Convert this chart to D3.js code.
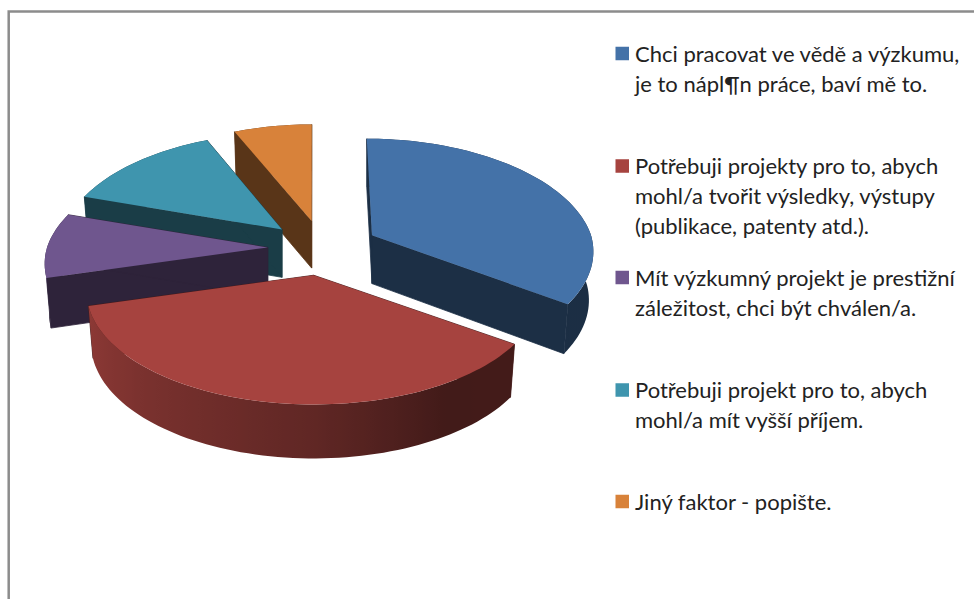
<!DOCTYPE html>
<html>
<head>
<meta charset="utf-8">
<script src="https://cdn.jsdelivr.net/npm/d3@7"></script>
<style>
  html, body { margin: 0; background: #fff; }
  svg { display: block; }
  text { font-family: Lato, "Open Sans", sans-serif; font-size: 22px; fill: #222; }
</style>
</head>
<body>
<svg id="chart" width="974" height="599"></svg>
<script>
var categories = [
  ["Chci pracovat ve vědě a výzkumu,", "je to nápl¶n práce, baví mě to."],
  ["Potřebuji projekty pro to, abych", "mohl/a tvořit výsledky, výstupy", "(publikace, patenty atd.)."],
  ["Mít výzkumný projekt je prestižní", "záležitost, chci být chválen/a."],
  ["Potřebuji projekt pro to, abych", "mohl/a mít vyšší příjem."],
  ["Jiný faktor - popište."]
];
var values = [34.7, 36, 9.3, 13.4, 6.6];
var colors = ["#4472a8", "#a6433f", "#6f568e", "#3f95ae", "#d8823a"];
var legendY = [53.5, 166, 277.5, 390, 501.5];

var cx = 323, cy = 248,      // pie centre before the slices are pulled out
    vx = 313,                // horizontal vanishing point
    radius = 221,
    squash = 0.5,
    persp = 0.145,
    explode = 0.25;

var svg = d3.select("#chart");

// frame
svg.append("path")
  .attr("d", "M8.7,599V11.5H974")
  .attr("fill", "none")
  .attr("stroke", "#8c8c8c")
  .attr("stroke-width", 2.5);

var slices = d3.pie().sort(null)(values).map(function(d, i) {
  var mid = (d.startAngle + d.endAngle) / 2;
  return {
    i: i,
    a0: d.startAngle,
    a1: d.endAngle,
    mid: mid,
    ax: cx + radius * explode * Math.sin(mid),
    ay: cy - radius * squash * explode * Math.cos(mid)
  };
});

// plane (x right, y back) to screen, relative to the slice's apex
function project(s, x, y, low) {
  var w = 1 / (1 + persp * y),
      lean = 1 - (1 - Math.min(1, w)) * 0.7,
      r = 219 + (s.ay - 235) * 0.14,     // slices nearer the viewer come out a bit wider
      k = low ? 0.98 : 1,
      depth = 47 + (s.ay - 220) * 0.09 + Math.max(0, -y) * 2;
  return [
    vx + (s.ax - vx) * lean + r * x * w * k,
    s.ay - radius * squash * y * w + (low ? depth : 0)
  ];
}

function rimPoint(s, a, low) {
  return project(s, Math.sin(a), Math.cos(a), low);
}

function arcAngles(s, step) {
  var n = Math.max(2, Math.ceil((s.a1 - s.a0) / step));
  return d3.range(n + 1).map(function(k) {
    return s.a0 + (s.a1 - s.a0) * k / n;
  });
}

var line = d3.line();

// how much of the base colour survives on the rim, by angle in degrees
var rimShade = d3.scaleLinear()
  .domain([0, 150, 180, 255, 256, 360])
  .range([0.41, 0.4, 0.58, 0.86, 0.41, 0.41])
  .clamp(true);

function shade(c, f) {
  var r = d3.rgb(c);
  return d3.rgb(r.r * f, r.g * f, r.b * f).formatHex();
}

// back slices first
var order = slices.slice().sort(function(p, q) { return p.ay - q.ay; });

var defs = svg.append("defs");

var pies = svg.selectAll("g.slice")
  .data(order)
  .enter().append("g")
  .attr("class", "slice");

pies.each(function(s) {
  var g = d3.select(this),
      base = colors[s.i],
      dark = shade(base, 0.41),
      apexTop = project(s, 0, 0, false),
      apexLow = project(s, 0, 0, true),
      as = arcAngles(s, 0.03);

  // the two radial walls
  [s.a0, s.a1].forEach(function(a) {
    g.append("path")
      .attr("d", line([apexTop, rimPoint(s, a, false), rimPoint(s, a, true), apexLow]) + "Z")
      .attr("fill", dark)
      .attr("stroke", dark)
      .attr("stroke-width", 0.8);
  });

  // rim, shaded left to right along the screen
  var xs = as.map(function(a) { return rimPoint(s, a, false)[0]; }),
      x0 = d3.min(xs),
      x1 = d3.max(xs),
      grad = defs.append("linearGradient")
        .attr("id", "rim" + s.i)
        .attr("gradientUnits", "userSpaceOnUse")
        .attr("x1", x0).attr("x2", x1)
        .attr("y1", 0).attr("y2", 0);

  as.map(function(a, k) {
    return { x: xs[k], c: shade(base, rimShade(a * 180 / Math.PI)) };
  }).sort(function(p, q) { return p.x - q.x; }).forEach(function(st) {
    grad.append("stop")
      .attr("offset", (st.x - x0) / (x1 - x0))
      .attr("stop-color", st.c);
  });

  g.append("path")
    .attr("d", line(as.map(function(a) { return rimPoint(s, a, false); })
      .concat(as.slice().reverse().map(function(a) { return rimPoint(s, a, true); }))) + "Z")
    .attr("fill", "url(#rim" + s.i + ")");

  // top face
  g.append("path")
    .attr("d", line([apexTop].concat(as.map(function(a) {
      return rimPoint(s, a, false);
    }))) + "Z")
    .attr("fill", base);
});

// legend
var legend = svg.selectAll("g.legend")
  .data(categories)
  .enter().append("g")
  .attr("class", "legend")
  .attr("transform", function(d, i) { return "translate(615.5," + legendY[i] + ")"; });

legend.append("rect")
  .attr("y", -6.75)
  .attr("width", 13.5)
  .attr("height", 13.5)
  .attr("fill", function(d, i) { return colors[i]; });

legend.each(function(lines) {
  d3.select(this).selectAll("text")
    .data(lines)
    .enter().append("text")
    .attr("x", 19.5)
    .attr("y", function(d, i) { return 8 + i * 30; })
    .text(function(d) { return d; });
});
</script>
</body>
</html>
